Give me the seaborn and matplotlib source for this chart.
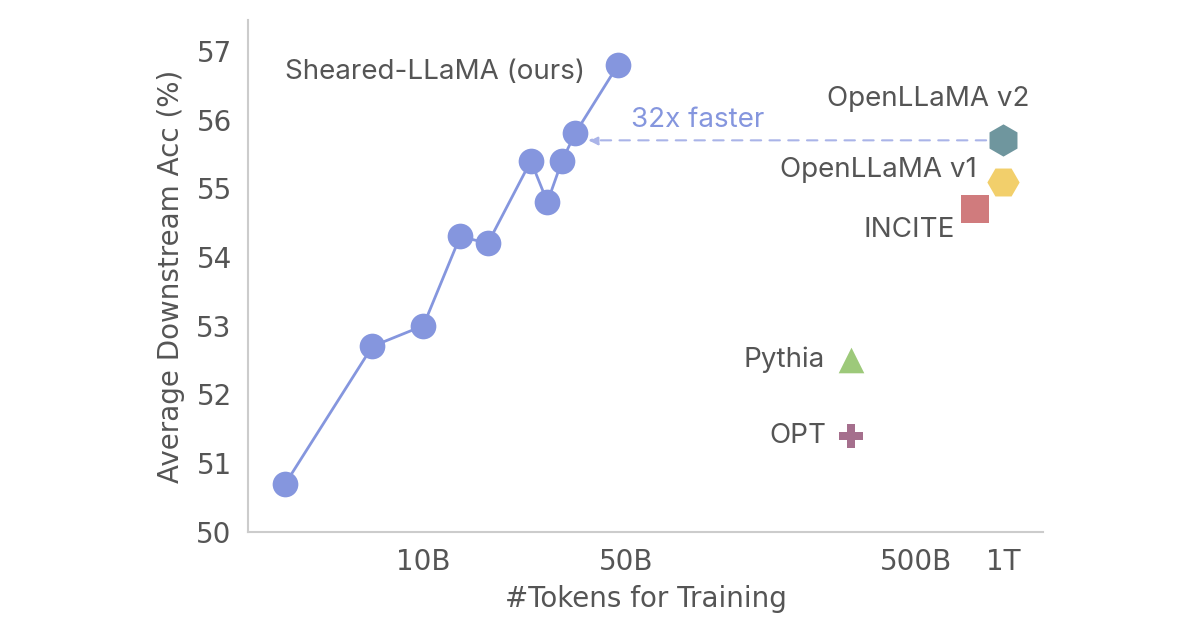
import numpy as np
import pandas as pd
import matplotlib
matplotlib.use("Agg")
import matplotlib.pyplot as plt
import seaborn as sns

# Sheared-LLaMA checkpoints (tokens in B, avg downstream acc %)
sheared_tokens = [3.34, 6.67, 10.0, 13.4, 16.7, 23.5, 26.8, 30.1, 33.4, 47.0]
sheared_acc = [50.7, 52.7, 53.0, 54.3, 54.2, 55.4, 54.8, 55.4, 55.8, 56.8]

# other models
models = ["OpenLLaMA v2", "OpenLLaMA v1", "INCITE", "Pythia", "OPT"]
model_tokens = [1000, 1000, 800, 300, 300]
model_acc = [55.7, 55.1, 54.7, 52.5, 51.4]
model_colors = ["#6f969e", "#f2cf6b", "#d07b7d", "#9dc97a", "#a56f8d"]
model_markers = ["h", "H", "s", "^", "P"]
model_sizes = [540, 540, 390, 340, 310]

xticks = [10, 50, 500, 1000]
xtick_labels = ["10B", "50B", "500B", "1T"]
yticks = [50, 51, 52, 53, 54, 55, 56, 57]

main_color = "#8596de"
text_color = "#555555"
grey = "#cccccc"

sns.set_style("white")
plt.rcParams["font.family"] = ["DejaVu Sans"]

fig = plt.figure(figsize=(12, 6.3), dpi=100)
ax = fig.add_axes([0.207, 0.156, 0.662, 0.812])

df = pd.DataFrame({"tokens": sheared_tokens, "acc": sheared_acc})
sns.lineplot(data=df, x="tokens", y="acc", ax=ax, color=main_color, lw=2,
             marker="o", markersize=18.5, markeredgewidth=0, zorder=3)

mdf = pd.DataFrame({"model": models, "tokens": model_tokens, "acc": model_acc})
for i, row in mdf.iterrows():
    sns.scatterplot(x=[row["tokens"]], y=[row["acc"]], ax=ax, color=model_colors[i],
                    marker=model_markers[i], s=model_sizes[i], linewidth=0, zorder=4)

ax.set_xscale("log")
ax.set_xlim(2.49, 1374)
ax.set_ylim(50, 57.45)
ax.set_xticks(xticks)
ax.set_xticklabels(xtick_labels)
ax.minorticks_off()
ax.set_yticks(yticks)
ax.tick_params(axis="both", length=0, labelsize=20, colors=text_color, pad=12)
ax.set_xlabel("#Tokens for Training", fontsize=20, color=text_color, labelpad=6)
ax.set_ylabel("Average Downstream Acc (%)", fontsize=20, color=text_color, labelpad=8)

sns.despine(ax=ax)
for s in ["left", "bottom"]:
    ax.spines[s].set_color(grey)
    ax.spines[s].set_linewidth(1.5)

lab_font = ["Inter", "DejaVu Sans"]
ax.annotate("Sheared-LLaMA (ours)", (sheared_tokens[-1], sheared_acc[-1]),
            xytext=(-33, -7), textcoords="offset pixels", ha="right", va="center",
            fontsize=20, color=text_color, family=lab_font)

offsets = [(27, 41), (-26, 12), (-20, -21), (-27, 0), (-25, 0)]
for i, name in enumerate(models):
    dx, dy = offsets[i]
    ax.annotate(name, (model_tokens[i], model_acc[i]), xytext=(dx, dy),
                textcoords="offset pixels", ha="right", va="center",
                fontsize=20, color=text_color, family=lab_font)

# 32x faster arrow
ax.annotate("", xy=(37.1, model_acc[0]), xytext=(model_tokens[0], model_acc[0]),
            arrowprops=dict(arrowstyle="-|>", color="#aab4e8", lw=1.5,
                            linestyle=(0, (5, 4)), shrinkA=12, shrinkB=0,
                            mutation_scale=14), zorder=2)
ax.text(88.7, 56.0, "32x faster", fontsize=20, color=main_color, ha="center",
        va="center", family=lab_font)

fig.savefig("out.png", dpi=100)
